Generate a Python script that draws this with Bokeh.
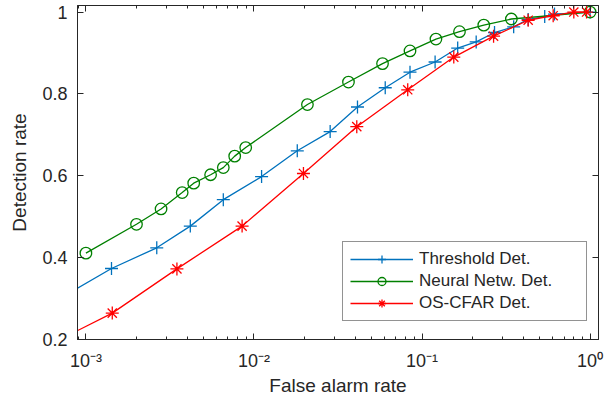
from bokeh.plotting import figure
from bokeh.models import (Range1d, FixedTicker, LogAxis, LinearAxis, Legend, LegendItem)
from bokeh.embed import file_html
from bokeh.resources import INLINE

# ---- data ----
thr_x = [0.0007, 0.00142, 0.00264, 0.00418, 0.00657, 0.0111, 0.0181, 0.0284, 0.0413,
         0.0604, 0.0848, 0.1196, 0.163, 0.210, 0.270, 0.351, 0.428, 0.537, 0.614, 1.0]
thr_y = [0.30, 0.3735, 0.424, 0.477, 0.5416, 0.598, 0.661, 0.708, 0.768,
         0.815, 0.853, 0.878, 0.912, 0.927, 0.950, 0.964, 0.982, 0.989, 0.995, 1.0]

nn_x = [0.001, 0.002, 0.0028, 0.00374, 0.00438, 0.00552, 0.00657, 0.00768, 0.00893,
        0.0208, 0.0365, 0.0582, 0.0848, 0.121, 0.167, 0.233, 0.340, 1.0]
nn_y = [0.411, 0.4815, 0.519, 0.559, 0.582, 0.6025, 0.620, 0.648, 0.669,
        0.774, 0.829, 0.874, 0.905, 0.934, 0.952, 0.968, 0.983, 1.0]

os_x = [0.0007, 0.001435, 0.00348, 0.0085, 0.0197, 0.0409, 0.0822, 0.1545, 0.2665,
        0.428, 0.603, 0.80, 0.953]
os_y = [0.20, 0.2645, 0.3725, 0.477, 0.6056, 0.720, 0.810, 0.890, 0.941,
        0.980, 0.991, 1.0, 1.0]

x_ticks = [0.001, 0.01, 0.1, 1.0]
x_tick_labels = ["10\u207b\u00b3", "10\u207b\u00b2", "10\u207b\u00b9", "10\u2070"]
y_ticks = [0.2, 0.4, 0.6, 0.8, 1.0]
y_tick_labels = ["0.2", "0.4", "0.6", "0.8", "1"]
x_minor = [m * 10.0 ** k for k in range(-4, 1) for m in range(2, 10)]

series_names = ["Threshold Det.", "Neural Netw. Det.", "OS-CFAR Det."]

BLUE = "#0072BD"
GREEN = "#008000"
RED = "#FF0000"
AX = "#262626"
FONT = "Liberation Sans"

p = figure(width=616, height=408, x_axis_type="log",
           x_range=Range1d(10 ** -3.05, 10 ** 0.05), y_range=Range1d(0.2, 1.016),
           output_backend="svg", toolbar_location=None,
           min_border_left=77, min_border_right=18, min_border_top=5, min_border_bottom=69)
p.background_fill_color = "white"
p.border_fill_color = "white"
p.outline_line_color = AX
p.outline_line_width = 1
p.grid.visible = False

xt = FixedTicker(ticks=x_ticks, minor_ticks=x_minor)
yt = FixedTicker(ticks=y_ticks, minor_ticks=[])

def style_axis(ax):
    ax.axis_line_color = AX
    ax.major_tick_line_color = AX
    ax.minor_tick_line_color = AX
    ax.major_tick_in = 6
    ax.major_tick_out = 0
    ax.minor_tick_in = 3
    ax.minor_tick_out = 0
    ax.major_label_text_font = FONT
    ax.major_label_text_color = AX
    ax.axis_label_text_font = FONT
    ax.axis_label_text_color = AX
    ax.axis_label_text_font_style = "normal"

xa = p.xaxis[0]
xa.ticker = xt
style_axis(xa)
xa.major_label_overrides = dict(zip(x_ticks, x_tick_labels))
xa.major_label_text_font_size = "18px"
xa.major_label_standoff = 11
xa.axis_label = "False alarm rate"
xa.axis_label_text_font_size = "19px"
xa.axis_label_standoff = 1

ya = p.yaxis[0]
ya.ticker = yt
style_axis(ya)
ya.major_label_overrides = dict(zip(y_ticks, y_tick_labels))
ya.major_label_text_font_size = "18px"
ya.major_label_standoff = 10
ya.axis_label = "Detection rate"
ya.axis_label_text_font_size = "19px"
ya.axis_label_standoff = 9

top = LogAxis(ticker=xt)
style_axis(top)
top.major_label_text_color = None
top.major_label_text_font_size = "1px"
top.major_label_standoff = 0
p.add_layout(top, "above")
right = LinearAxis(ticker=yt)
style_axis(right)
right.minor_tick_line_color = None
right.major_label_text_color = None
right.major_label_text_font_size = "1px"
right.major_label_standoff = 0
p.add_layout(right, "right")

l1 = p.line(thr_x, thr_y, line_color=BLUE, line_width=1.3)
m1 = p.scatter(thr_x, thr_y, marker="cross", size=13, line_color=BLUE, line_width=1.3)
l2 = p.line(nn_x, nn_y, line_color=GREEN, line_width=1.3)
m2 = p.scatter(nn_x, nn_y, marker="circle", size=11.5, line_color=GREEN, fill_color=None, line_width=1.3)
l3 = p.line(os_x, os_y, line_color=RED, line_width=1.3)
m3 = p.scatter(os_x, os_y, marker="asterisk", size=13, line_color=RED, line_width=1.3)

legend = Legend(items=[LegendItem(label=series_names[0], renderers=[l1, m1]),
                       LegendItem(label=series_names[1], renderers=[l2, m2]),
                       LegendItem(label=series_names[2], renderers=[l3, m3])],
                location=(265, 18))
legend.label_text_font = FONT
legend.label_text_font_size = "17px"
legend.label_text_color = AX
legend.border_line_color = AX
legend.border_line_width = 1
legend.background_fill_color = "white"
legend.background_fill_alpha = 1.0
legend.glyph_width = 63
legend.glyph_height = 20
legend.label_height = 20
legend.label_standoff = 6
legend.label_width = 160
legend.spacing = 2
legend.padding = 7
legend.margin = 0
p.add_layout(legend, "center")

open("out.html", "w").write(file_html(p, INLINE))
